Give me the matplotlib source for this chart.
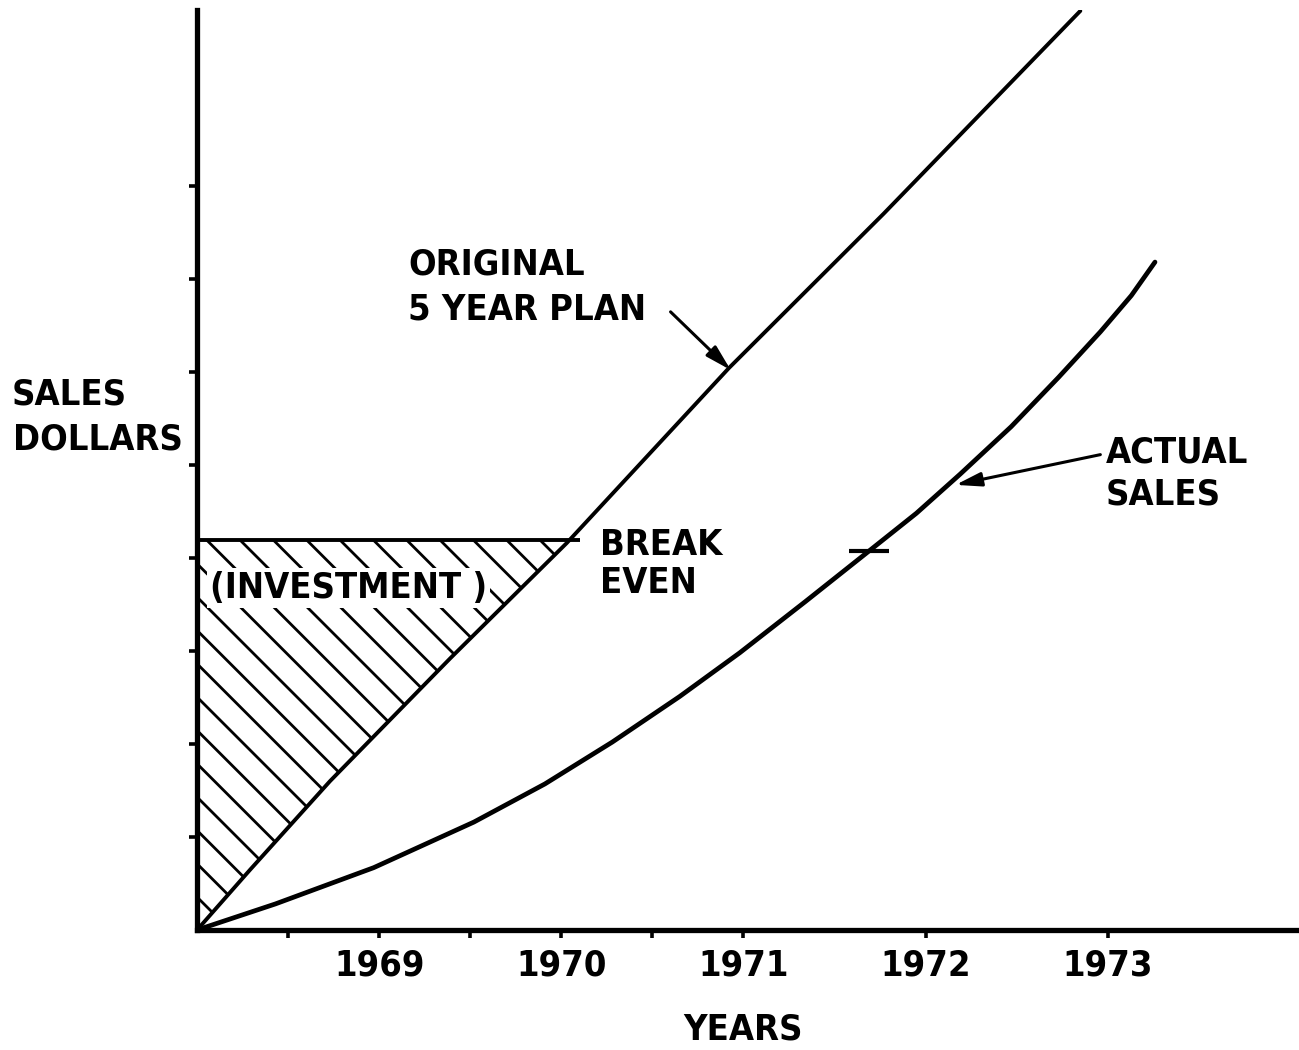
import numpy as np
import matplotlib.pyplot as plt

# Values (x in years, y in tick units of sales dollars)
plan_years = [1968.0, 1968.29, 1968.73, 1969.39, 1970.03, 1970.92,
              1971.77, 1972.85]
plan_sales = [0.0, 0.645, 1.60, 2.92, 4.16, 6.04, 7.70, 9.88]

actual_years = [1968.0, 1968.43, 1968.97, 1969.52, 1969.91, 1970.28,
                1970.65, 1970.98, 1971.34, 1971.70, 1971.95, 1972.19,
                1972.47, 1972.73, 1972.96, 1973.13, 1973.26]
actual_sales = [0.0, 0.28, 0.67, 1.16, 1.57, 2.02, 2.51, 2.98, 3.53,
                4.09, 4.48, 4.90, 5.41, 5.94, 6.43, 6.82, 7.18]

break_even_level = 4.19
break_even_end = 1970.10
actual_break_even = (1971.69, 4.07)

tick_years = [1968.5, 1969, 1969.5, 1970, 1970.5, 1971, 1972, 1973]
year_labels = {1969: '1969', 1970: '1970', 1971: '1971', 1972: '1972',
               1973: '1973'}
y_ticks = [1, 2, 3, 4, 5, 6, 7, 8]

FONT = ['DejaVu Sans']


def main():
    plt.rcParams['font.family'] = FONT
    plt.rcParams['font.weight'] = 'bold'
    plt.rcParams['font.stretch'] = 'condensed'
    plt.rcParams['hatch.linewidth'] = 1.0

    fig = plt.figure(figsize=(6.495, 5.25), dpi=200)
    ax = fig.add_axes([0.1517, 0.1143, 0.8468, 0.8762])
    ax.set_xlim(1968, 1974.04)
    ax.set_ylim(0, 9.89)

    # spines / ticks
    for side in ('top', 'right'):
        ax.spines[side].set_visible(False)
    for side in ('left', 'bottom'):
        ax.spines[side].set_linewidth(1.9)
    ax.set_xticks(tick_years)
    ax.set_xticklabels([year_labels.get(t, '') for t in tick_years])
    ax.set_yticks(y_ticks)
    ax.set_yticklabels([])
    ax.tick_params(direction='out', length=3, width=1.3, pad=3.5,
                   labelsize=13)

    px = np.array(plan_years)
    py = np.array(plan_sales)

    # investment area (hatched)
    ax.fill_between(px, py, break_even_level, where=py <= break_even_level,
                    interpolate=True, facecolor='none', edgecolor='black',
                    hatch='\\\\', linewidth=0)
    ax.hlines(break_even_level, 1968, break_even_end, color='black', lw=1.4)

    # curves
    ax.plot(plan_years, plan_sales, color='black', lw=1.4,
            solid_capstyle='round', solid_joinstyle='round')
    ax.plot(actual_years, actual_sales, color='black', lw=1.7,
            solid_capstyle='round', solid_joinstyle='round')
    bx, by = actual_break_even
    ax.hlines(by, bx - 0.11, bx + 0.11, color='black', lw=1.5)

    # labels
    txt = dict(fontsize=13, fontweight='bold', va='center', ha='left')
    ax.text(1969.16, 7.15, 'ORIGINAL', **txt)
    ax.text(1969.16, 6.67, '5 YEAR PLAN', **txt)
    ax.text(1966.98, 5.76, 'SALES', clip_on=False, **txt)
    ax.text(1966.99, 5.27, 'DOLLARS', clip_on=False, **txt)
    ax.text(1968.07, 3.68, '(INVESTMENT )', zorder=3,
            bbox=dict(facecolor='white', edgecolor='none', pad=1), **txt)
    ax.text(1970.21, 4.14, 'BREAK', **txt)
    ax.text(1970.21, 3.73, 'EVEN', **txt)
    ax.text(1972.99, 5.13, 'ACTUAL', **txt)
    ax.text(1972.99, 4.68, 'SALES', **txt)
    ax.text(1971.0, -1.075, 'YEARS', fontsize=13, fontweight='bold',
            ha='center', va='center', clip_on=False)

    arrow = dict(arrowstyle='-|>,head_length=0.55,head_width=0.15',
                 color='black', lw=1.1, mutation_scale=14,
                 shrinkA=0, shrinkB=0)
    ax.annotate('', xy=(1970.93, 6.02), xytext=(1970.6, 6.645),
                arrowprops=arrow)
    ax.annotate('', xy=(1972.165, 4.785), xytext=(1972.96, 5.11),
                arrowprops=arrow)

    fig.savefig('out.png', dpi=200)


if __name__ == "__main__":
    main()
